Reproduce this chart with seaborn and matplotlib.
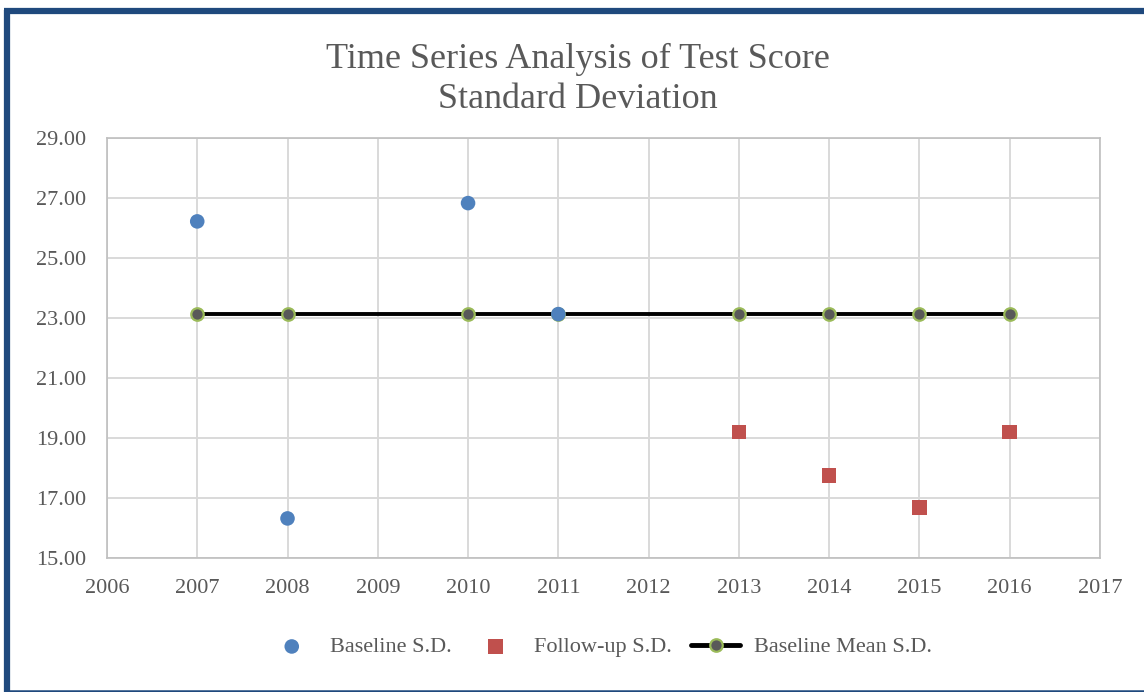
import matplotlib
matplotlib.use("Agg")
import matplotlib.pyplot as plt
from matplotlib.lines import Line2D
import seaborn as sns
import pandas as pd

# ============================================================
# DATA
# ============================================================
baseline_years = [2007, 2008, 2010, 2011]
baseline_sd = [26.22, 16.32, 26.83, 23.13]

followup_years = [2013, 2014, 2015, 2016]
followup_sd = [19.20, 17.76, 16.68, 19.20]

mean_years = [2007, 2008, 2010, 2011, 2013, 2014, 2015, 2016]
mean_sd = [23.13] * len(mean_years)

y_ticks = [15, 17, 19, 21, 23, 25, 27, 29]
x_ticks = list(range(2006, 2018))

base_df = pd.DataFrame({"year": baseline_years, "sd": baseline_sd})
follow_df = pd.DataFrame({"year": followup_years, "sd": followup_sd})
mean_df = pd.DataFrame({"year": mean_years, "sd": mean_sd})

# ============================================================
# STYLE
# ============================================================
sns.set_style("white")
plt.rcParams["font.family"] = ["Liberation Serif", "DejaVu Serif"]
TEXT = "#595959"
GRID = "#D9D9D9"
FRAME = "#1F497D"

fig = plt.figure(figsize=(11.44, 6.92), dpi=100)
ax = fig.add_axes([0.0935, 0.1936, 0.868, 0.607])

# mean line first, scatter series on top
sns.lineplot(data=mean_df, x="year", y="sd", ax=ax, color="black", lw=2.8,
             marker="o", markersize=9, markerfacecolor="#595959",
             markeredgecolor="#9BBB59", markeredgewidth=1.6,
             label="Baseline Mean S.D.", zorder=3)
sns.scatterplot(data=base_df, x="year", y="sd", ax=ax, color="#4F81BD",
                marker="o", s=110, edgecolor="none",
                label="Baseline S.D.", zorder=4)
sns.scatterplot(data=follow_df, x="year", y="sd", ax=ax, color="#C0504D",
                marker="s", s=110, edgecolor="none",
                label="Follow-up S.D.", zorder=4)

ax.set_xlim(2006, 2017)
ax.set_ylim(15, 29)
ax.set_xticks(x_ticks)
ax.set_yticks(y_ticks)
ax.set_xticklabels([str(x) for x in x_ticks])
ax.set_yticklabels([f"{y:.2f}" for y in y_ticks])
ax.tick_params(axis="both", length=0, labelsize=16, labelcolor=TEXT)
ax.tick_params(axis="x", pad=15)
ax.tick_params(axis="y", pad=15)
ax.set_xlabel("")
ax.set_ylabel("")
ax.grid(True, color=GRID, lw=1.4)
ax.set_axisbelow(True)
for side in ax.spines.values():
    side.set_color("#BFBFBF")
    side.set_linewidth(1.2)

fig.text(0.505, 0.885, "Time Series Analysis of Test Score\nStandard Deviation",
         ha="center", va="center", fontsize=26, color=TEXT, linespacing=1.3)

# legend in the order of the reference
handles, labels = ax.get_legend_handles_labels()
order = [labels.index("Baseline S.D."), labels.index("Follow-up S.D."),
         labels.index("Baseline Mean S.D.")]
leg = ax.legend([handles[i] for i in order], [labels[i] for i in order],
                loc="center", bbox_to_anchor=(0.524, 0.065), bbox_transform=fig.transFigure,
                ncol=3, frameon=False, fontsize=16, labelcolor=TEXT,
                handlelength=2.2, columnspacing=0.9, handletextpad=0.6)
leg.legend_handles[2].set_linewidth(3.5)

# dark blue frame around the chart (right side runs off the picture)
fig.add_artist(Line2D([0.0061, 0.0061], [0.0, 0.985], transform=fig.transFigure,
                      color=FRAME, lw=4.5, solid_capstyle="butt"))
fig.add_artist(Line2D([0.0035, 1.0], [0.9835, 0.9835], transform=fig.transFigure,
                      color=FRAME, lw=4.5, solid_capstyle="butt"))
fig.add_artist(Line2D([0.0035, 1.0], [0.0015, 0.0015], transform=fig.transFigure,
                      color=FRAME, lw=1.8, solid_capstyle="butt"))

fig.savefig("out.png", dpi=100)
